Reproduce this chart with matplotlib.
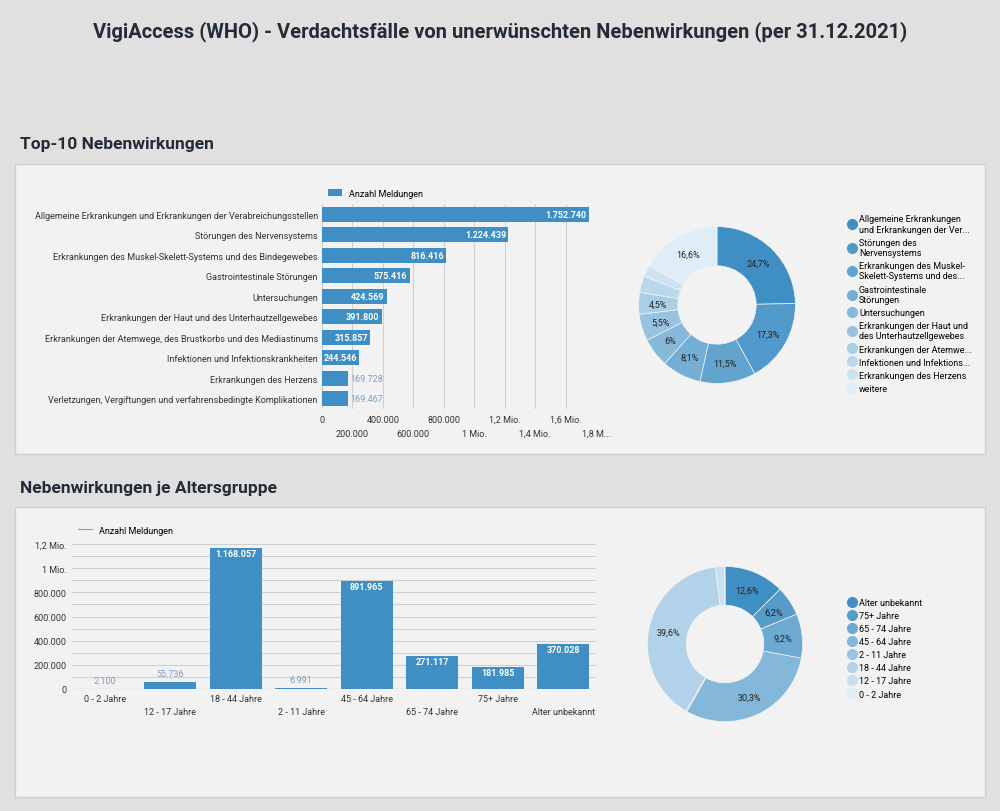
import numpy as np
import matplotlib.pyplot as plt
from matplotlib.patches import Rectangle
from matplotlib.lines import Line2D
from matplotlib.colors import to_rgb

W, H = 1000, 812

top_labels = [
    "Allgemeine Erkrankungen und Erkrankungen der Verabreichungsstellen",
    "Störungen des Nervensystems",
    "Erkrankungen des Muskel-Skelett-Systems und des Bindegewebes",
    "Gastrointestinale Störungen",
    "Untersuchungen",
    "Erkrankungen der Haut und des Unterhautzellgewebes",
    "Erkrankungen der Atemwege, des Brustkorbs und des Mediastinums",
    "Infektionen und Infektionskrankheiten",
    "Erkrankungen des Herzens",
    "Verletzungen, Vergiftungen und verfahrensbedingte Komplikationen",
]
top_values = [1752740, 1224439, 816416, 575416, 424569, 391800, 315857, 244546, 169728, 169467]
top_value_text = ["1.752.740", "1.224.439", "816.416", "575.416", "424.569", "391.800",
                  "315.857", "244.546", "169.728", "169.467"]

pie_top_labels = [
    "Allgemeine Erkrankungen\nund Erkrankungen der Ver...",
    "Störungen des\nNervensystems",
    "Erkrankungen des Muskel-\nSkelett-Systems und des...",
    "Gastrointestinale\nStörungen",
    "Untersuchungen",
    "Erkrankungen der Haut und\ndes Unterhautzellgewebes",
    "Erkrankungen der Atemwe...",
    "Infektionen und Infektions...",
    "Erkrankungen des Herzens",
    "weitere",
]
pie_top_values = [24.7, 17.3, 11.5, 8.1, 6.0, 5.5, 4.5, 3.4, 2.4, 16.6]
pie_top_text = ["24,7%", "17,3%", "11,5%", "8,1%", "6%", "5,5%", "4,5%", "", "", "16,6%"]

age_labels = ["0 - 2 Jahre", "12 - 17 Jahre", "18 - 44 Jahre", "2 - 11 Jahre",
              "45 - 64 Jahre", "65 - 74 Jahre", "75+ Jahre", "Alter unbekannt"]
age_values = [2100, 55736, 1168057, 6991, 891965, 271117, 181985, 370028]
age_text = ["2.100", "55.736", "1.168.057", "6.991", "891.965", "271.117", "181.985", "370.028"]

pie_age_labels = ["Alter unbekannt", "75+ Jahre", "65 - 74 Jahre", "45 - 64 Jahre",
                  "2 - 11 Jahre", "18 - 44 Jahre", "12 - 17 Jahre", "0 - 2 Jahre"]
pie_age_values = [370028, 181985, 271117, 891965, 6991, 1168057, 55736, 2100]
pie_age_text = ["12,6%", "6,2%", "9,2%", "30,3%", "", "39,6%", "", ""]

plt.rcParams['font.family'] = ['Roboto', 'DejaVu Sans']
BLUE = "#3f8fc4"
LABEL_OUT = "#7f9fbf"
DARK = "#222b36"


def shades(n, light="#dfedf6"):
    a, b = np.array(to_rgb(BLUE)), np.array(to_rgb(light))
    return [tuple(a + (b - a) * i / (n - 1)) for i in range(n)]


def px_axes(fig, x0, y0, x1, y1):
    return fig.add_axes([x0 / W, 1 - y1 / H, (x1 - x0) / W, (y1 - y0) / H])


def dot_legend(fig, labels, cols, x, y):
    handles = [Line2D([], [], marker="o", ls="none", markersize=7, color=c) for c in cols]
    fig.legend(handles, labels, loc="upper left", bbox_to_anchor=(x / W, 1 - y / H),
               frameon=False, fontsize=6.5, handlelength=0.8, labelspacing=0.45,
               handletextpad=0.4)


def donut(ax, values, texts, cols):
    wedges, _ = ax.pie(values, colors=cols, startangle=90, counterclock=False,
                       wedgeprops=dict(width=0.5, edgecolor="#f2f2f2", lw=0.5))
    for w, t in zip(wedges, texts):
        if t:
            a = np.deg2rad((w.theta1 + w.theta2) / 2)
            ax.text(0.75 * np.cos(a), 0.75 * np.sin(a), t, ha="center", va="center",
                    fontsize=6.5, color="#222222")
    ax.set_aspect("equal")


fig = plt.figure(figsize=(10, 8.12), dpi=100, facecolor="#e1e0e1")
for (x0, y0, x1, y1) in [(15, 165, 985, 455), (15, 508, 985, 798)]:
    fig.patches.append(Rectangle((x0 / W, 1 - y1 / H), (x1 - x0) / W, (y1 - y0) / H,
                                 transform=fig.transFigure, facecolor="#f2f2f2",
                                 edgecolor="#cfcfcf", lw=1, zorder=-5))
fig.text(0.5, 1 - 32 / H, "VigiAccess (WHO) - Verdachtsfälle von unerwünschten Nebenwirkungen (per 31.12.2021)",
         ha="center", va="center", fontsize=14.5, fontweight="bold", color=DARK)
fig.text(20 / W, 1 - 145 / H, "Top-10 Nebenwirkungen", ha="left", va="center",
         fontsize=12.5, fontweight="bold", color=DARK)
fig.text(20 / W, 1 - 489 / H, "Nebenwirkungen je Altersgruppe", ha="left", va="center",
         fontsize=12.5, fontweight="bold", color=DARK)

# top bar chart
ax = px_axes(fig, 322, 205, 596, 410)
ax.set_facecolor("none")
y = np.arange(len(top_values))
ax.barh(y, top_values, height=0.75, color=BLUE, zorder=2)
ax.set_ylim(len(top_values) - 0.5, -0.5)
ax.set_xlim(0, 1800000)
ticks = np.arange(0, 1800001, 200000)
ax.set_xticks(ticks)
ax.set_xticklabels([])
ticktext = ["0", "200.000", "400.000", "600.000", "800.000", "1 Mio.", "1,2 Mio.", "1,4 Mio.", "1,6 Mio.", "1,8 M..."]
for i, (t, s) in enumerate(zip(ticks, ticktext)):
    ax.text(t, len(top_values) - 0.5 + (0.5 if i % 2 == 0 else 1.2), s, ha="center", va="center",
            fontsize=6.5, color="#333333", clip_on=False)
ax.grid(axis="x", color="#d0d0d0", lw=0.8, zorder=0)
ax.set_yticks(y)
ax.set_yticklabels(top_labels, fontsize=6.5, color="#333333")
ax.tick_params(length=0, pad=3)
for s in ax.spines.values():
    s.set_visible(False)
for i, (v, t) in enumerate(zip(top_values, top_value_text)):
    if v > 200000:
        ax.text(v - 15000, i, t, ha="right", va="center", fontsize=6.5, color="white", fontweight="bold")
    else:
        ax.text(v + 15000, i, t, ha="left", va="center", fontsize=6.5, color=LABEL_OUT)
ax.legend(["Anzahl Meldungen"], loc="lower left", bbox_to_anchor=(0, 1.0), frameon=False,
          fontsize=6.5, handlelength=1.5, handleheight=0.8, borderaxespad=0.3)

# top donut
axp = px_axes(fig, 614, 208, 820, 404)
cols = shades(len(pie_top_values))
donut(axp, pie_top_values, pie_top_text, cols)
dot_legend(fig, pie_top_labels, cols, 840, 207)

# bottom bar chart
ax2 = px_axes(fig, 72, 545, 596, 690)
ax2.set_facecolor("none")
x = np.arange(len(age_values))
ax2.bar(x, age_values, width=0.8, color=BLUE, zorder=2)
ax2.set_xlim(-0.5, len(age_values) - 0.5)
ax2.set_ylim(0, 1200000)
ax2.set_yticks(np.arange(0, 1200001, 200000))
ax2.set_yticklabels(["0", "200.000", "400.000", "600.000", "800.000", "1 Mio.", "1,2 Mio."],
                    fontsize=6.5, color="#333333")
ax2.set_yticks(np.arange(0, 1200001, 100000), minor=True)
ax2.grid(axis="y", which="both", color="#cfcfcf", lw=0.8, zorder=0)
ax2.tick_params(length=0, which="both", pad=4)
ax2.set_xticks(x)
ax2.set_xticklabels([])
for i, lab in enumerate(age_labels):
    ax2.text(i, -80000 if i % 2 == 0 else -190000, lab, ha="center", va="center",
             fontsize=6.5, color="#333333", clip_on=False)
for s in ax2.spines.values():
    s.set_visible(False)
ax2.axhline(0, color="#999999", lw=0.8)
for i, (v, t) in enumerate(zip(age_values, age_text)):
    if v > 150000:
        ax2.text(i, v - 45000, t, ha="center", va="center", fontsize=6.5, color="white", fontweight="bold")
    else:
        ax2.text(i, v + 70000, t, ha="center", va="center", fontsize=6.5, color=LABEL_OUT)
ax2.legend(["Anzahl Meldungen"], loc="lower left", bbox_to_anchor=(0, 1.02), frameon=False,
           fontsize=6.5, handlelength=1.5, handleheight=0.8, borderaxespad=0.3)

# bottom donut
axq = px_axes(fig, 628, 548, 822, 742)
cols2 = shades(len(pie_age_values))
donut(axq, pie_age_values, pie_age_text, cols2)
dot_legend(fig, pie_age_labels, cols2, 840, 591)

fig.savefig("out.png", dpi=100, facecolor=fig.get_facecolor())
